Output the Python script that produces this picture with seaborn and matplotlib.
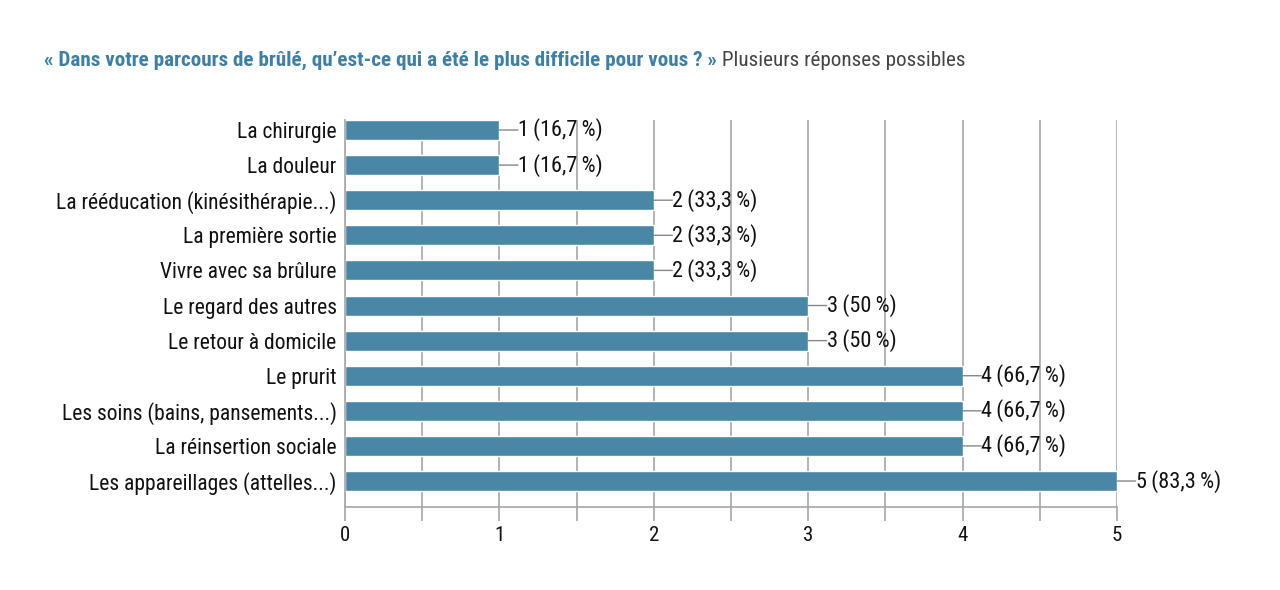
import matplotlib
matplotlib.use("Agg")
import matplotlib.pyplot as plt
import seaborn as sns
import pandas as pd
from matplotlib.ticker import MultipleLocator

categories = [
    "La chirurgie",
    "La douleur",
    "La rééducation (kinésithérapie...)",
    "La première sortie",
    "Vivre avec sa brûlure",
    "Le regard des autres",
    "Le retour à domicile",
    "Le prurit",
    "Les soins (bains, pansements...)",
    "La réinsertion sociale",
    "Les appareillages (attelles...)",
]
counts = [1, 1, 2, 2, 2, 3, 3, 4, 4, 4, 5]
value_labels = [
    "1\u2009(16,7\u2009%)", "1\u2009(16,7\u2009%)", "2\u2009(33,3\u2009%)", "2\u2009(33,3\u2009%)",
    "2\u2009(33,3\u2009%)", "3\u2009(50\u2009%)", "3\u2009(50\u2009%)", "4\u2009(66,7\u2009%)",
    "4\u2009(66,7\u2009%)", "4\u2009(66,7\u2009%)", "5\u2009(83,3\u2009%)",
]
title_bold = "« Dans votre parcours de brûlé, qu’est-ce qui a été le plus difficile pour vous ? »"
title_light = " Plusieurs réponses possibles"

df = pd.DataFrame({"cat": categories, "n": counts})

sns.set_theme(style="white")
plt.rcParams["font.family"] = ["Roboto Condensed", "Liberation Sans Narrow", "Roboto", "DejaVu Sans"]

bar_color = "#4a86a6"
grid_color = "#a6a6a6"

fig = plt.figure(figsize=(12.8, 5.9), dpi=100)
ax = fig.add_axes([345 / 1280, 1 - 507 / 590, (1117 - 345) / 1280, (507 - 120) / 590])

sns.barplot(data=df, x="n", y="cat", color=bar_color, saturation=1, width=0.57, ax=ax, zorder=3)

ax.set_xlim(0, 5)
ax.set_ylim(10.74, -0.285)
ax.xaxis.set_major_locator(MultipleLocator(1))
ax.xaxis.set_minor_locator(MultipleLocator(0.5))
ax.grid(True, axis="x", which="both", color=grid_color, linewidth=1.2, zorder=0)
ax.set_axisbelow(True)
for s in ["top", "right"]:
    ax.spines[s].set_visible(False)
for s in ["left", "bottom"]:
    ax.spines[s].set_color(grid_color)
    ax.spines[s].set_linewidth(1.2)
    ax.spines[s].set_zorder(4)
ax.tick_params(axis="x", which="both", direction="out", length=10, width=1.2, color=grid_color,
               labelsize=15, labelcolor="#111111", pad=4, bottom=True)
ax.tick_params(axis="y", length=0, labelsize=15.5, labelcolor="#111111", pad=6)
ax.set_xlabel("")
ax.set_ylabel("")

gap = 0.12
for i, (v, lab) in enumerate(zip(counts, value_labels)):
    ax.annotate("", xy=(v, i), xytext=(v + gap, i),
                arrowprops=dict(arrowstyle="-", color="#888888", lw=1.0, shrinkA=0, shrinkB=0),
                annotation_clip=False, zorder=5)
    ax.text(v + gap, i, lab, va="center", ha="left", fontsize=16, color="#111111", zorder=5,
            clip_on=False)

t1 = fig.text(44 / 1280, 1 - 60 / 590, title_bold, fontsize=15.2, fontweight="bold",
              color="#3f7fa3", va="center", ha="left")
fig.canvas.draw()
bb = t1.get_window_extent()
fig.text(bb.x1 / 1280, 1 - 60 / 590, title_light, fontsize=15.2, color="#444444",
         va="center", ha="left")

fig.savefig("out.png", dpi=100)
